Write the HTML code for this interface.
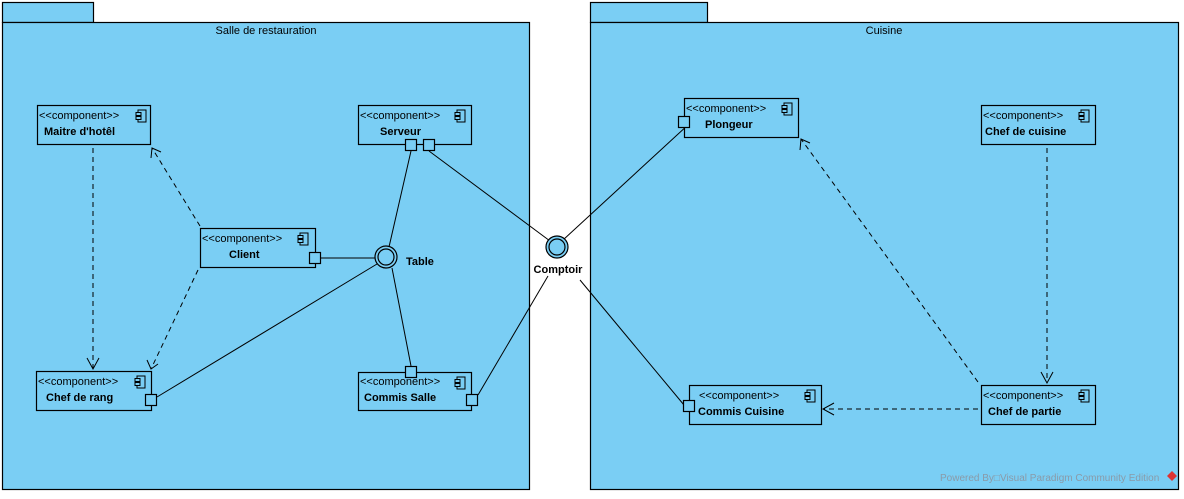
<!DOCTYPE html>
<html><head><meta charset="utf-8"><style>
html,body{margin:0;padding:0;background:#fff;}
svg text{font-family:"Liberation Sans",sans-serif;fill:#000;}
.st{font-size:11px;}
.nm{font-size:11px;font-weight:bold;}
</style></head><body>
<svg width="1184" height="494" viewBox="0 0 1184 494" xmlns="http://www.w3.org/2000/svg">
<defs>
<g id="ic"><rect x="2" y="0" width="8" height="12" fill="none" stroke="#000"/><rect x="0" y="2.5" width="5" height="3" fill="#7ACEF4" stroke="#000"/><rect x="0" y="6.5" width="5" height="3" fill="#7ACEF4" stroke="#000"/></g>
</defs>
<g fill="#7ACEF4" stroke="#000" stroke-width="1.2">
<rect x="2.5" y="2.5" width="91" height="20"/>
<rect x="2.5" y="22.5" width="527" height="467"/>
<rect x="590.5" y="2.5" width="117" height="20"/>
<rect x="590.5" y="22.5" width="588" height="467"/>
</g>
<text x="266" y="34" class="st" text-anchor="middle">Salle de restauration</text>
<text x="884" y="34" class="st" text-anchor="middle">Cuisine</text>

<g stroke="#000" stroke-width="1" fill="none">
<line x1="411" y1="151" x2="389" y2="247"/>
<line x1="429" y1="151" x2="550" y2="241"/>
<line x1="321" y1="258" x2="375" y2="258"/>
<line x1="157" y1="397" x2="377" y2="264"/>
<line x1="411" y1="366" x2="392" y2="268"/>
<line x1="478" y1="395" x2="548" y2="276"/>
<line x1="689" y1="124" x2="563" y2="240"/>
<line x1="580" y1="280" x2="684" y2="405"/>
</g>
<g stroke="#000" stroke-width="1" fill="none" stroke-dasharray="5,4">
<line x1="93" y1="148" x2="93" y2="369"/>
<line x1="200" y1="226" x2="152" y2="148"/>
<line x1="198" y1="270" x2="151" y2="369"/>
<line x1="1047" y1="148" x2="1047" y2="383"/>
<line x1="978" y1="382" x2="801" y2="139"/>
<line x1="978" y1="409" x2="823" y2="409"/>
</g>
<g stroke="#000" stroke-width="1" fill="none">
<polyline points="87,358 93,369 99,358"/>
<polyline points="151,158 152,148 161,152"/>
<polyline points="147,360 151,369 158,364"/>
<polyline points="1041,372 1047,383 1053,372"/>
<polyline points="800,150 801,139 810,143"/>
<polyline points="834,403 823,409 834,415"/>
</g>

<g fill="#7ACEF4" stroke="#000" stroke-width="1.2">
<rect x="37.5" y="105.5" width="113" height="39"/>
<rect x="358.5" y="105.5" width="113" height="39"/>
<rect x="200.5" y="228.5" width="115" height="39"/>
<rect x="36.5" y="371.5" width="115" height="39"/>
<rect x="358.5" y="372.5" width="113" height="38"/>
<rect x="684.5" y="98.5" width="114" height="39"/>
<rect x="981.5" y="105.5" width="114" height="39"/>
<rect x="689.5" y="385.5" width="132" height="39"/>
<rect x="981.5" y="385.5" width="114" height="39"/>
<rect x="405.5" y="139.5" width="11" height="11"/>
<rect x="423.5" y="139.5" width="11" height="11"/>
<rect x="309.5" y="252.5" width="11" height="11"/>
<rect x="145.5" y="394.5" width="11" height="11"/>
<rect x="405.5" y="366.5" width="11" height="11"/>
<rect x="466.5" y="394.5" width="11" height="11"/>
<rect x="678.5" y="116.5" width="11" height="11"/>
<rect x="683.5" y="400.5" width="11" height="11"/>
</g>
<g fill="#7ACEF4" stroke="#000" stroke-width="1.2">
<circle cx="386" cy="257" r="11"/><circle cx="386" cy="257" r="8"/>
<circle cx="557" cy="247" r="11"/><circle cx="557" cy="247" r="8"/>
</g>
<g stroke-width="1">
<use href="#ic" x="136" y="110"/>
<use href="#ic" x="455" y="110"/>
<use href="#ic" x="298" y="233"/>
<use href="#ic" x="135" y="376"/>
<use href="#ic" x="455" y="377"/>
<use href="#ic" x="782" y="103"/>
<use href="#ic" x="1079" y="110"/>
<use href="#ic" x="805" y="390"/>
<use href="#ic" x="1079" y="390"/>
</g>
<text x="39" y="119" class="st">&lt;&lt;component&gt;&gt;</text>
<text x="360" y="119" class="st">&lt;&lt;component&gt;&gt;</text>
<text x="202" y="242" class="st">&lt;&lt;component&gt;&gt;</text>
<text x="38" y="385" class="st">&lt;&lt;component&gt;&gt;</text>
<text x="360" y="385" class="st">&lt;&lt;component&gt;&gt;</text>
<text x="686" y="112" class="st">&lt;&lt;component&gt;&gt;</text>
<text x="983" y="119" class="st">&lt;&lt;component&gt;&gt;</text>
<text x="699" y="399" class="st">&lt;&lt;component&gt;&gt;</text>
<text x="983" y="399" class="st">&lt;&lt;component&gt;&gt;</text>
<text x="44" y="135" class="nm">Maitre d'hotêl</text>
<text x="380" y="135" class="nm">Serveur</text>
<text x="229" y="258" class="nm">Client</text>
<text x="46" y="401" class="nm">Chef de rang</text>
<text x="364" y="401" class="nm">Commis Salle</text>
<text x="705" y="128" class="nm">Plongeur</text>
<text x="985" y="135" class="nm">Chef de cuisine</text>
<text x="698" y="415" class="nm">Commis Cuisine</text>
<text x="988" y="415" class="nm">Chef de partie</text>
<text x="406" y="265" class="nm">Table</text>
<text x="558" y="273" class="nm" text-anchor="middle">Comptoir</text>
<text x="940" y="481" style="font-size:10px;fill:#8a9aa8">Powered By□Visual Paradigm Community Edition</text>
<path d="M1172,471 l5,5 l-5,5 l-5,-5z" fill="#d33"/>
</svg>
</body></html>
